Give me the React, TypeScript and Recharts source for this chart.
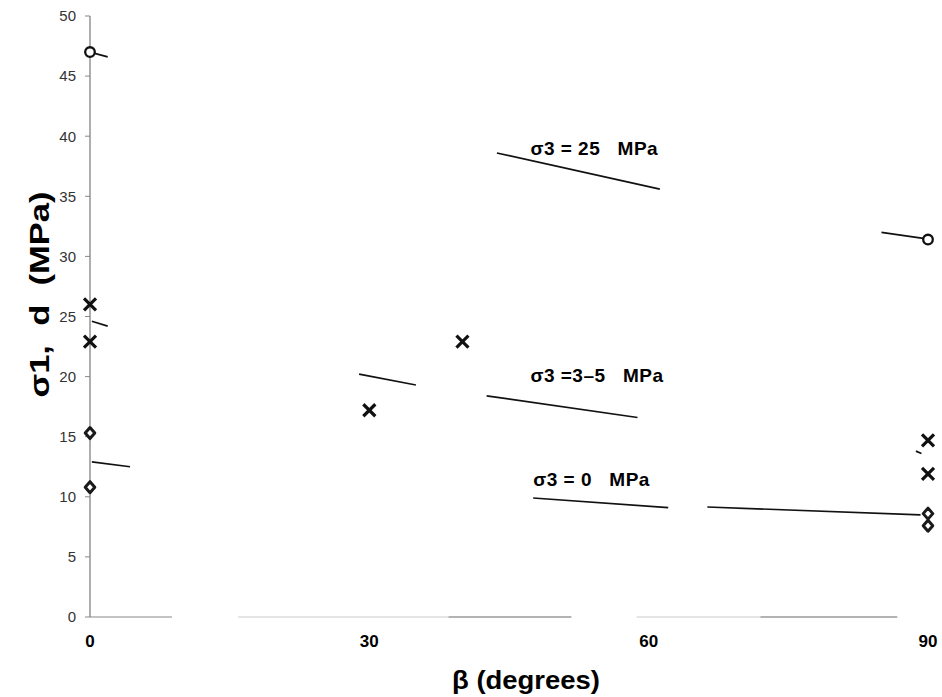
import React from 'react';
import { ScatterChart, Scatter, XAxis, YAxis, ReferenceLine } from 'recharts';

// Axis ticks
const betaTicks = [0, 30, 60, 90];
const sigmaTicks = [0, 5, 10, 15, 20, 25, 30, 35, 40, 45, 50];

// Measured strengths (β in degrees, σ1 in MPa)
const circlePoints = [
  { beta: 0, sigma: 47.0 },
  { beta: 90, sigma: 31.4 },
];
const crossPoints = [
  { beta: 0, sigma: 26.0 },
  { beta: 0, sigma: 22.9 },
  { beta: 30, sigma: 17.2 },
  { beta: 40, sigma: 22.9 },
  { beta: 90, sigma: 14.7 },
  { beta: 90, sigma: 11.9 },
];
const diamondPoints = [
  { beta: 0, sigma: 15.3 },
  { beta: 0, sigma: 10.8 },
  { beta: 90, sigma: 8.6 },
  { beta: 90, sigma: 7.6 },
];

// Trend curves, drawn as broken pieces: [[β1, σ1], [β2, σ2]]
const trend25 = [
  [[0, 47.0], [1.9, 46.6]],
  [[43.7, 38.6], [61.2, 35.6]],
  [[85.0, 32.0], [89.5, 31.5]],
];
const trend35 = [
  [[0.2, 24.6], [1.9, 24.2]],
  [[28.9, 20.2], [35.0, 19.3]],
  [[42.6, 18.4], [58.8, 16.6]],
  [[88.7, 13.8], [89.3, 13.6]],
];
const trend0 = [
  [[0.2, 12.9], [4.3, 12.5]],
  [[47.6, 9.9], [62.1, 9.1]],
  [[66.3, 9.15], [89.2, 8.5]],
];

// Pieces of the β axis baseline
const baselineDark = [[0, 8.8]];
const baselineLight = [[15.9, 38.5], [58.7, 72]];
const baselineMid = [[38.5, 51.7], [72, 86.7]];

// Curve annotations
const annotations = [
  { beta: 47.3, sigma: 39.0, text: 'σ3 = 25   MPa' },
  { beta: 47.3, sigma: 20.05, text: 'σ3 =3–5   MPa' },
  { beta: 47.6, sigma: 11.4, text: 'σ3 = 0   MPa' },
];

const FONT = '"Liberation Sans", Arial, sans-serif';

const CircleMark = (props: any) => {
  const { cx, cy } = props;
  if (cx == null || cy == null) return null;
  return <circle cx={cx} cy={cy} r={4.8} fill="#fff" stroke="#111" strokeWidth={2.3} />;
};

const CrossMark = (props: any) => {
  const { cx, cy } = props;
  if (cx == null || cy == null) return null;
  const h = 6;
  return (
    <g stroke="#111" strokeWidth={3.2}>
      <line x1={cx - h} y1={cy - h} x2={cx + h} y2={cy + h} />
      <line x1={cx - h} y1={cy + h} x2={cx + h} y2={cy - h} />
    </g>
  );
};

const DiamondMark = (props: any) => {
  const { cx, cy } = props;
  if (cx == null || cy == null) return null;
  return (
    <path
      d={`M${cx},${cy - 5.5} L${cx + 4.8},${cy} L${cx},${cy + 5.5} L${cx - 4.8},${cy} Z`}
      fill="#fff"
      stroke="#1a1a1a"
      strokeWidth={3}
      strokeLinejoin="round"
    />
  );
};

const AnnotationText = (props: any) => {
  const { cx, cy } = props;
  const text = props.payload?.text ?? props.text;
  if (cx == null || cy == null) return null;
  return (
    <text
      x={cx}
      y={cy}
      dominantBaseline="central"
      fontFamily={FONT}
      fontWeight="bold"
      fontSize={19}
      letterSpacing={0.5}
      fill="#000"
      style={{ whiteSpace: 'pre' }}
    >
      {text}
    </text>
  );
};

const seg = (pts: number[][], key: string, color: string, width: number) => (
  <ReferenceLine
    key={key}
    segment={[{ x: pts[0][0], y: pts[0][1] }, { x: pts[1][0], y: pts[1][1] }]}
    stroke={color}
    strokeWidth={width}
    ifOverflow="visible"
  />
);

export default function App() {
  return (
    <div style={{ position: 'absolute', left: 0, top: 0, background: '#fff' }}>
      <ScatterChart
        width={942}
        height={697}
        margin={{ top: 16, right: 14, bottom: 30, left: 30 }}
      >
        <XAxis
          type="number"
          dataKey="beta"
          domain={[0, 90]}
          ticks={betaTicks}
          axisLine={false}
          tickLine={false}
          tickSize={0}
          tickMargin={18}
          height={50}
          interval={0}
          tick={{ fontFamily: FONT, fontSize: 17, fontWeight: 'bold', fill: '#000' }}
          label={{
            content: (p: any) => {
              const vb = p.viewBox || { x: 90, y: 617, width: 838 };
              return (
                <text
                  x={vb.x + vb.width / 2 + 17}
                  y={vb.y + 63}
                  textAnchor="middle"
                  dominantBaseline="central"
                  fontFamily={FONT}
                  fontWeight="bold"
                  fontSize={26}
                  textLength={148}
                  lengthAdjust="spacingAndGlyphs"
                  fill="#000"
                >
                  β (degrees)
                </text>
              );
            },
          }}
        />
        <YAxis
          type="number"
          dataKey="sigma"
          domain={[0, 50]}
          ticks={sigmaTicks}
          width={60}
          interval={0}
          axisLine={{ stroke: '#777', strokeWidth: 1.2 }}
          tickLine={{ stroke: '#888' }}
          tickSize={5}
          tickMargin={9}
          tick={{ fontFamily: FONT, fontSize: 15, fill: '#333' }}
          label={{
            content: (p: any) => {
              const vb = p.viewBox || { x: 30, y: 16, height: 601 };
              const x = vb.x + 10;
              const y = vb.y + vb.height / 2 - 22;
              return (
                <text
                  x={x}
                  y={y}
                  transform={`rotate(-90, ${x}, ${y})`}
                  textAnchor="middle"
                  dominantBaseline="central"
                  fontFamily={FONT}
                  fontWeight="bold"
                  fontSize={27}
                  textLength={206}
                  lengthAdjust="spacingAndGlyphs"
                  fill="#000"
                  style={{ whiteSpace: 'pre' }}
                >
                  σ1,  d  (MPa)
                </text>
              );
            },
          }}
        />

        {baselineDark.map((b, i) => seg([[b[0], 0], [b[1], 0]], `bd${i}`, '#888', 1.2))}
        {baselineLight.map((b, i) => seg([[b[0], 0], [b[1], 0]], `bl${i}`, '#ddd', 1.5))}
        {baselineMid.map((b, i) => seg([[b[0], 0], [b[1], 0]], `bm${i}`, '#9a9a9a', 1.5))}

        {trend25.map((s, i) => seg(s, `t25${i}`, '#111', 1.7))}
        {trend35.map((s, i) => seg(s, `t35${i}`, '#111', 1.7))}
        {trend0.map((s, i) => seg(s, `t0${i}`, '#111', 1.7))}

        <Scatter data={annotations} shape={AnnotationText} isAnimationActive={false} />
        <Scatter data={circlePoints} shape={CircleMark} isAnimationActive={false} />
        <Scatter data={crossPoints} shape={CrossMark} isAnimationActive={false} />
        <Scatter data={diamondPoints} shape={DiamondMark} isAnimationActive={false} />
      </ScatterChart>
    </div>
  );
}
